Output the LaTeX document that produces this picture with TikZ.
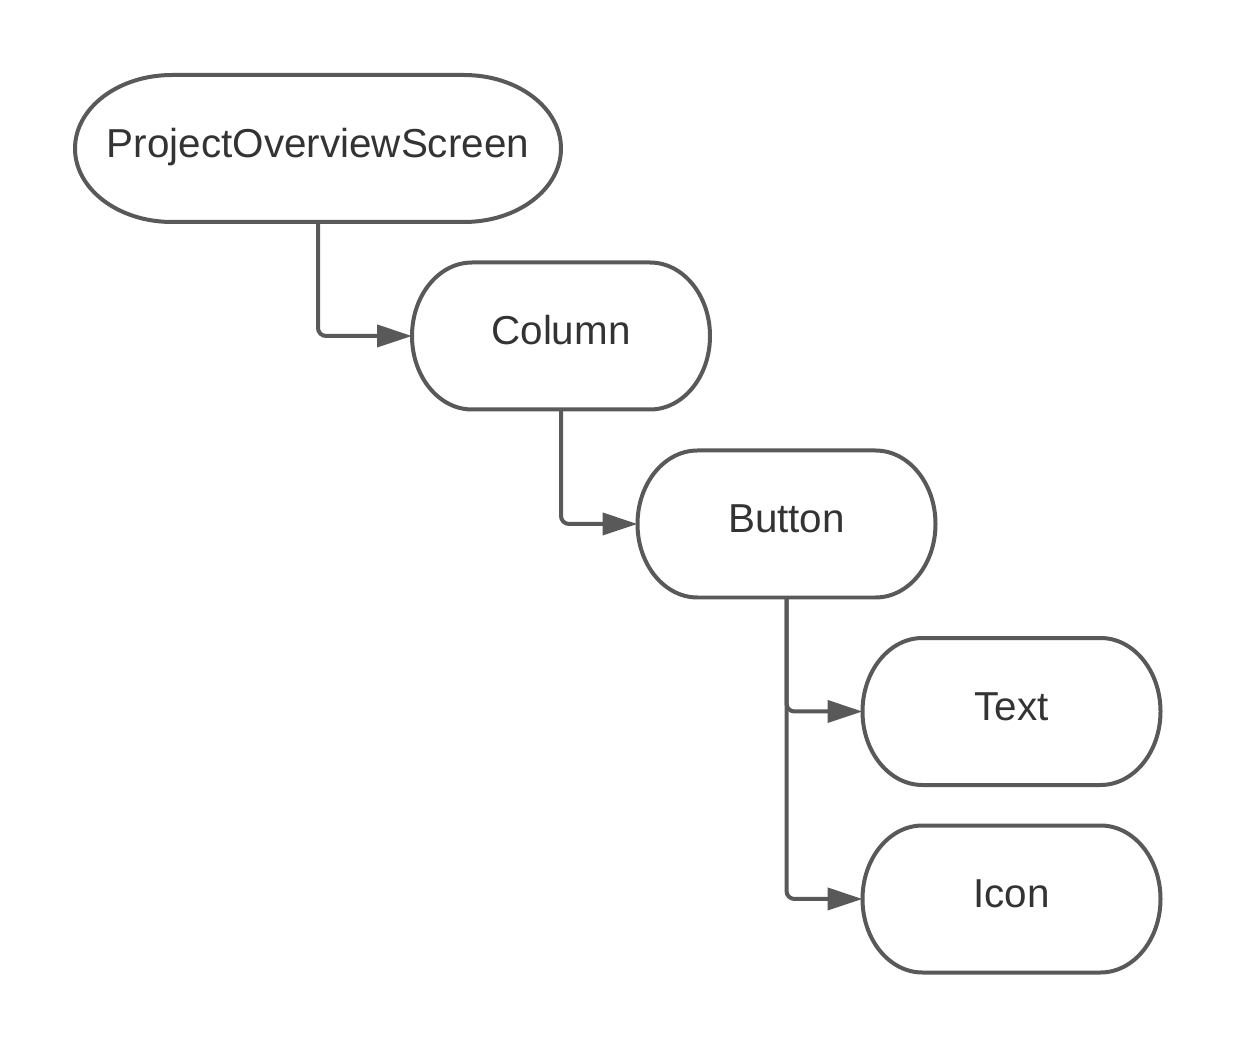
\documentclass[tikz,border=0pt]{standalone}
\usepackage{fontspec}
\setmainfont{Liberation Sans}
\usepackage{tikz}
\usetikzlibrary{arrows.meta}
\usetikzlibrary{calc}
\definecolor{linegray}{HTML}{595959}
\definecolor{textgray}{HTML}{333333}
\tikzstyle{widget}=[rectangle,inner sep=0pt,outer sep=0pt,minimum height=2.94cm,text=textgray,font=\fontsize{23}{27}\selectfont,text height=0.56cm,text depth=0.2cm]
\tikzstyle{outline}=[draw=linegray,line width=0.08cm]
\tikzstyle{edge}=[draw=linegray,line width=0.08cm,rounded corners=0.16cm,-{Triangle[length=0.7cm,width=0.44cm]}]

\begin{document}
\begin{tikzpicture}[x=0.02cm,y=0.02cm]
 \useasboundingbox (0,0) rectangle (1238,1050);

 % widgets
 \foreach \x/\y/\w/\name/\label in {318/901.5/486/po/ProjectOverviewScreen, 561/714/298/col/Column, 786.5/526/298/btn/Button, 1011.5/338.5/298/txt/Text, 1011.5/151/298/icn/Icon}
   \node[widget,minimum width=\w*0.02cm] (\name) at (\x,\y) {\label};

 % terminator outlines
 \foreach \name/\w/\r in {po/486/97, col/298/60, btn/298/60, txt/298/60, icn/298/60}
   \draw[outline] ($(\name.north west)+(\r,0)$) -- ++(\w-2*\r,0)
     arc[start angle=90,end angle=-90,x radius=\r,y radius=73.5]
     -- ++(-\w+2*\r,0)
     arc[start angle=270,end angle=90,x radius=\r,y radius=73.5] -- cycle;

 % tree edges
 \foreach \source/\dest in {po/col, col/btn, btn/txt, btn/icn}
   \path[edge] (\source.south) |- (\dest.west);

\end{tikzpicture}
\end{document}
